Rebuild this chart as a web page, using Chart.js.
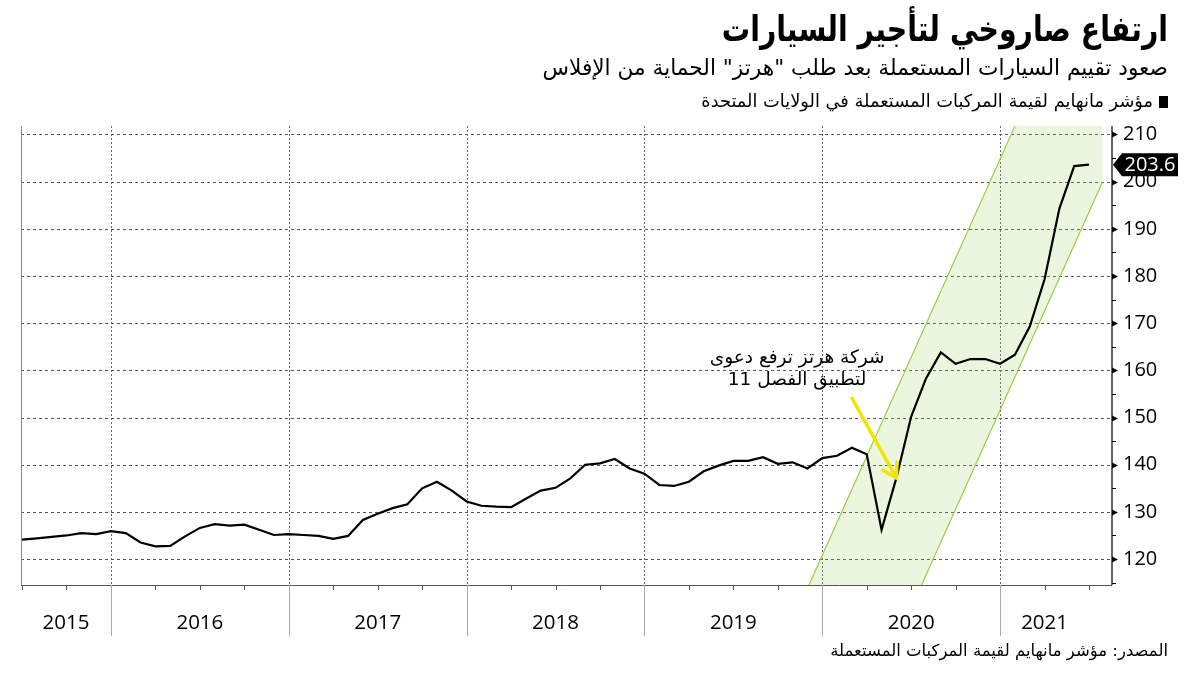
<!DOCTYPE html>
<html lang="ar">
<head>
<meta charset="utf-8">
<script src="https://cdn.jsdelivr.net/npm/chart.js@4.4.1/dist/chart.umd.min.js"></script>
<style>
  html, body { margin:0; padding:0; background:#fff; }
  #wrap { position:relative; width:1200px; height:675px; overflow:hidden; }
  #c { position:absolute; left:0; top:0; }
  .t { position:absolute; right:32px; direction:rtl; white-space:nowrap; color:#000; font-family:"DejaVu Sans", sans-serif; transform-origin:100% 50%; }
  #title { top:9px; font-size:35px; font-weight:bold; transform:scaleX(0.81); }
  #sub { top:55px; font-size:22px; transform:scaleX(0.985); }
  #leg { top:90px; font-size:17.8px; }
  #leg span.sq { display:inline-block; width:9px; height:12px; background:#000; margin-left:6px; vertical-align:-1px; }
  #src { top:641px; font-size:16.5px; }
</style>
</head>
<body>
<div id="wrap">
  <canvas id="c" width="1200" height="675"></canvas>
  <div class="t" id="title">ارتفاع صاروخي لتأجير السيارات</div>
  <div class="t" id="sub">صعود تقييم السيارات المستعملة بعد طلب "هرتز" الحماية من الإفلاس</div>
  <div class="t" id="leg"><span class="sq"></span>مؤشر مانهايم لقيمة المركبات المستعملة في الولايات المتحدة</div>
  <div class="t" id="src">المصدر: مؤشر مانهايم لقيمة المركبات المستعملة</div>
</div>
<script>
// ---- data ----
const months = [
 '2015-06','2015-07','2015-08','2015-09','2015-10','2015-11','2015-12',
 '2016-01','2016-02','2016-03','2016-04','2016-05','2016-06','2016-07','2016-08','2016-09','2016-10','2016-11','2016-12',
 '2017-01','2017-02','2017-03','2017-04','2017-05','2017-06','2017-07','2017-08','2017-09','2017-10','2017-11','2017-12',
 '2018-01','2018-02','2018-03','2018-04','2018-05','2018-06','2018-07','2018-08','2018-09','2018-10','2018-11','2018-12',
 '2019-01','2019-02','2019-03','2019-04','2019-05','2019-06','2019-07','2019-08','2019-09','2019-10','2019-11','2019-12',
 '2020-01','2020-02','2020-03','2020-04','2020-05','2020-06','2020-07','2020-08','2020-09','2020-10','2020-11','2020-12',
 '2021-01','2021-02','2021-03','2021-04','2021-05','2021-06'
];
const manheim = [
 124.1,124.4,124.7,125.0,125.5,125.3,125.9,
 125.5,123.5,122.7,122.8,124.8,126.6,127.4,127.1,127.3,126.2,125.1,125.3,
 125.1,124.9,124.3,124.9,128.3,129.6,130.8,131.6,135.0,136.4,134.5,132.2,
 131.3,131.1,131.0,132.8,134.5,135.1,137.1,140.0,140.3,141.2,139.2,138.1,
 135.7,135.5,136.4,138.6,139.8,140.8,140.8,141.6,140.2,140.5,139.2,141.4,
 141.9,143.6,142.2,126.2,137.2,150.2,158.3,163.8,161.4,162.4,162.4,161.4,
 163.3,169.3,179.3,194.3,203.3,203.6
];
const yearLabels = ['2015','2016','2017','2018','2019','2020','2021'];
const yTickValues = [120,130,140,150,160,170,180,190,200,210];
const lastLabel = '203.6';
// highlighted channel corners (months, index)
const bandX = [59.1, 73.0, 78.9, 78.9, 66.7];
const bandY = [114.5, 211.8, 211.8, 199.9, 114.5];
// annotation
const noteLines = ['شركة هرتز ترفع دعوى', 'لتطبيق الفصل 11'];
const noteAt = {x: 58.3, y1: 162.6, y2: 158.0};
const arrowFrom = {x: 62, y: 154.1};
const arrowTo = {x: 65, y: 137.2};

// ---- helpers ----
const toM = s => { const [y, m] = s.split('-').map(Number); return (y - 2015) * 12 + m; };
const linePts = months.map((s, i) => ({x: toM(s), y: manheim[i]}));
const bandPts = bandX.map((x, i) => ({x, y: bandY[i]}));
const X_MIN = 5.93, X_MAX = 79.55;

const decor = {
  id: 'decor',
  beforeDatasetsDraw(chart) {
    const {ctx, chartArea: a, scales: {x, y}} = chart;
    ctx.save();
    ctx.strokeStyle = '#555'; ctx.lineWidth = 1; ctx.setLineDash([3, 3]);
    yTickValues.forEach(v => {
      const py = Math.round(y.getPixelForValue(v)) + 0.5;
      ctx.beginPath(); ctx.moveTo(a.left, py); ctx.lineTo(a.right, py); ctx.stroke();
    });
    ctx.setLineDash([2, 2]); ctx.strokeStyle = '#666';
    for (let k = 1; k < yearLabels.length; k++) {
      const px = Math.round(x.getPixelForValue(k * 12)) + 0.5;
      ctx.beginPath(); ctx.moveTo(px, a.top); ctx.lineTo(px, a.bottom); ctx.stroke();
    }
    ctx.restore();
  },
  afterDatasetsDraw(chart) {
    const {ctx, chartArea: a, scales: {x, y}} = chart;
    ctx.save();
    ctx.setLineDash([]);
    ctx.strokeStyle = '#888'; ctx.lineWidth = 1;
    ctx.beginPath(); ctx.moveTo(a.left + 0.5, a.top); ctx.lineTo(a.left + 0.5, a.bottom); ctx.stroke();
    ctx.strokeStyle = '#555';
    ctx.beginPath(); ctx.moveTo(a.left, a.bottom + 0.5); ctx.lineTo(a.right, a.bottom + 0.5); ctx.stroke();
    ctx.strokeStyle = '#333'; ctx.lineWidth = 1.5;
    ctx.beginPath(); ctx.moveTo(a.right, a.top); ctx.lineTo(a.right, a.bottom); ctx.stroke();
    ctx.lineWidth = 1; ctx.strokeStyle = '#000'; ctx.fillStyle = '#000';
    for (let v = 115; v <= 210; v += 5) {
      const py = Math.round(y.getPixelForValue(v)) + 0.5;
      if (v % 10 === 0) {
        ctx.beginPath(); ctx.moveTo(a.right, py - 3); ctx.lineTo(a.right + 6, py); ctx.lineTo(a.right, py + 3); ctx.closePath(); ctx.fill();
      } else {
        ctx.beginPath(); ctx.moveTo(a.right, py); ctx.lineTo(a.right + 4, py); ctx.stroke();
      }
    }
    ctx.strokeStyle = '#555';
    for (let m = 6; m <= 78; m += 3) {
      const px = Math.round(x.getPixelForValue(m)) + 0.5;
      ctx.beginPath(); ctx.moveTo(px, a.bottom); ctx.lineTo(px, a.bottom + 5); ctx.stroke();
    }
    ctx.strokeStyle = '#aaa';
    for (let k = 1; k < yearLabels.length; k++) {
      const px = Math.round(x.getPixelForValue(k * 12)) + 0.5;
      ctx.beginPath(); ctx.moveTo(px, a.bottom); ctx.lineTo(px, a.bottom + 51); ctx.stroke();
    }
    ctx.fillStyle = '#000'; ctx.font = '20.5px "Open Sans", sans-serif';
    ctx.textAlign = 'center'; ctx.textBaseline = 'middle';
    const lastM = linePts[linePts.length - 1].x;
    yearLabels.forEach((lab, k) => {
      const s = Math.max(k * 12, X_MIN), e = Math.min((k + 1) * 12, lastM);
      ctx.fillText(lab, x.getPixelForValue((s + e) / 2), a.bottom + 38);
    });
    const fx = x.getPixelForValue(arrowFrom.x), fy = y.getPixelForValue(arrowFrom.y);
    const tx = x.getPixelForValue(arrowTo.x), ty = y.getPixelForValue(arrowTo.y);
    ctx.strokeStyle = '#f2e600'; ctx.lineWidth = 3.5; ctx.lineCap = 'round';
    ctx.beginPath(); ctx.moveTo(fx, fy); ctx.lineTo(tx, ty); ctx.stroke();
    const ang = Math.atan2(ty - fy, tx - fx);
    ctx.beginPath();
    ctx.moveTo(tx - 16 * Math.cos(ang - 0.55), ty - 16 * Math.sin(ang - 0.55));
    ctx.lineTo(tx, ty);
    ctx.lineTo(tx - 16 * Math.cos(ang + 0.55), ty - 16 * Math.sin(ang + 0.55));
    ctx.stroke();
    ctx.fillStyle = '#000'; ctx.font = '18.5px "DejaVu Sans", sans-serif';
    ctx.direction = 'rtl'; ctx.textAlign = 'center';
    ctx.fillText(noteLines[0], x.getPixelForValue(noteAt.x), y.getPixelForValue(noteAt.y1));
    ctx.fillText(noteLines[1], x.getPixelForValue(noteAt.x), y.getPixelForValue(noteAt.y2));
    ctx.direction = 'ltr';
    const ly = y.getPixelForValue(manheim[manheim.length - 1]);
    const bx = a.right + 10, bw = 56, bh = 23;
    ctx.fillStyle = '#000';
    ctx.beginPath();
    ctx.moveTo(a.right + 1, ly);
    ctx.lineTo(bx, ly - bh / 2); ctx.lineTo(bx + bw, ly - bh / 2);
    ctx.lineTo(bx + bw, ly + bh / 2); ctx.lineTo(bx, ly + bh / 2); ctx.closePath(); ctx.fill();
    ctx.fillStyle = '#fff'; ctx.font = '20px "Open Sans", sans-serif'; ctx.textAlign = 'center';
    ctx.fillText(lastLabel, bx + bw / 2, ly + 1);
    ctx.restore();
  }
};

new Chart(document.getElementById('c'), {
  type: 'scatter',
  data: {
    datasets: [
      { data: linePts, showLine: true, borderColor: '#000', borderWidth: 2.2, pointRadius: 0, tension: 0, order: 0 },
      { data: bandPts, showLine: true, fill: 'shape', backgroundColor: 'rgba(150,210,90,0.2)', borderWidth: 0, borderColor: 'rgba(0,0,0,0)', pointRadius: 0, order: 2 },
      { data: [bandPts[0], bandPts[1]], showLine: true, borderColor: '#9ccc4a', borderWidth: 1.2, pointRadius: 0, order: 1 },
      { data: [bandPts[4], bandPts[3]], showLine: true, borderColor: '#9ccc4a', borderWidth: 1.2, pointRadius: 0, order: 1 }
    ]
  },
  options: {
    responsive: false, animation: false, devicePixelRatio: 1,
    layout: { padding: { left: 21, top: 126, right: 0, bottom: 90 } },
    plugins: { legend: { display: false }, tooltip: { enabled: false }, title: { display: false } },
    scales: {
      x: { type: 'linear', min: X_MIN, max: X_MAX, display: false },
      y: {
        position: 'right', min: 114.5, max: 211.8,
        afterBuildTicks: s => { s.ticks = yTickValues.map(v => ({value: v})); },
        afterFit: s => { s.width = 88; },
        grid: { display: false, drawOnChartArea: false },
        border: { display: false },
        ticks: { color: '#000', padding: 3, font: { family: 'Open Sans', size: 20 }, callback: v => String(v) }
      }
    }
  },
  plugins: [decor]
});
</script>
</body>
</html>
